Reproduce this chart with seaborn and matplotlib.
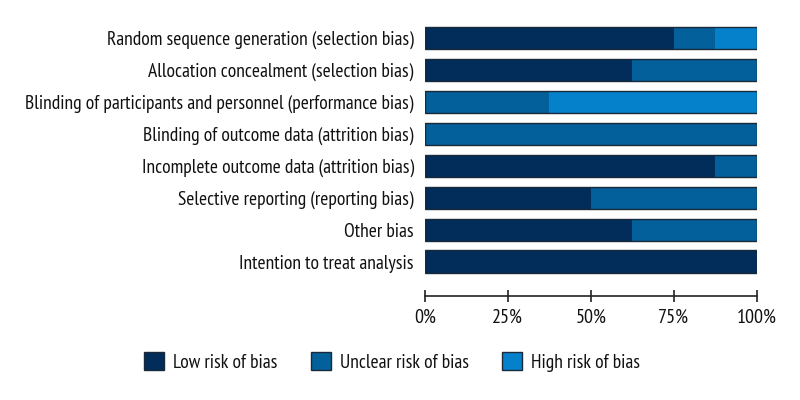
import numpy as np
import pandas as pd
import matplotlib.pyplot as plt
import seaborn as sns
from matplotlib.patches import Patch

# 各項目の割合（%）
domains = [
    'Random sequence generation (selection bias)',
    'Allocation concealment (selection bias)',
    'Blinding of participants and personnel (performance bias)',
    'Blinding of outcome data (attrition bias)',
    'Incomplete outcome data (attrition bias)',
    'Selective reporting (reporting bias)',
    'Other bias',
    'Intention to treat analysis',
]
low = [75, 62.5, 0, 0, 87.5, 50, 62.5, 100]
unclear = [12.5, 37.5, 37.5, 100, 12.5, 50, 37.5, 0]
high = [12.5, 0, 62.5, 0, 0, 0, 0, 0]

labels = ['Low risk of bias', 'Unclear risk of bias', 'High risk of bias']
colors = ['#022c5a', '#03609a', '#0581cc']

df = pd.DataFrame({'domain': domains, 'low': low, 'unclear': unclear, 'high': high})
df['c1'] = df['low']
df['c2'] = df['low'] + df['unclear']
df['c3'] = df['c2'] + df['high']

sns.set_style('white')
plt.rcParams['font.family'] = ['PT Sans Narrow', 'DejaVu Sans']

fig = plt.figure(figsize=(8, 4), dpi=100)
ax = fig.add_axes([0.531, 0.26, 0.415, 0.685])

# 累積値を後ろから重ねて積み上げ棒グラフにする
for col, c in zip(['c3', 'c2', 'c1'], colors[::-1]):
    sns.barplot(data=df, x=col, y='domain', color=c, orient='h', width=0.69,
                linewidth=0, ax=ax, saturation=1)
# 外枠だけ最後に描く
sns.barplot(data=df, x='c3', y='domain', color='#1a2a3a', orient='h', width=0.69,
            fill=False, linewidth=1.0, ax=ax)

ax.set_xlim(0, 100)
ax.set_ylim(7 + 1.08, -0.5)
ax.set_xlabel('')
ax.set_ylabel('')
ax.set_xticks([0, 25, 50, 75, 100])
ax.set_xticklabels(['0%', '25%', '50%', '75%', '100%'], fontsize=14.5)
ax.tick_params(axis='x', bottom=True, direction='inout', length=9, width=1.2,
               color='#222222', labelcolor='#111111', pad=5)
ax.tick_params(axis='y', left=False, length=0, labelsize=14, labelcolor='#111111', pad=8)
for s in ['top', 'right', 'left']:
    ax.spines[s].set_visible(False)
ax.spines['bottom'].set_color('#222222')
ax.spines['bottom'].set_linewidth(1.2)

handles = [Patch(facecolor=c, edgecolor='#1a2a3a', label=l) for c, l in zip(colors, labels)]
leg = fig.legend(handles=handles, loc='center', bbox_to_anchor=(0.49, 0.095), ncol=3, frameon=False,
                 fontsize=14, handlelength=1.05, handleheight=1.05, columnspacing=1.7, handletextpad=0.45)
for t in leg.get_texts():
    t.set_color('#111111')

plt.savefig('out.png', dpi=100)
